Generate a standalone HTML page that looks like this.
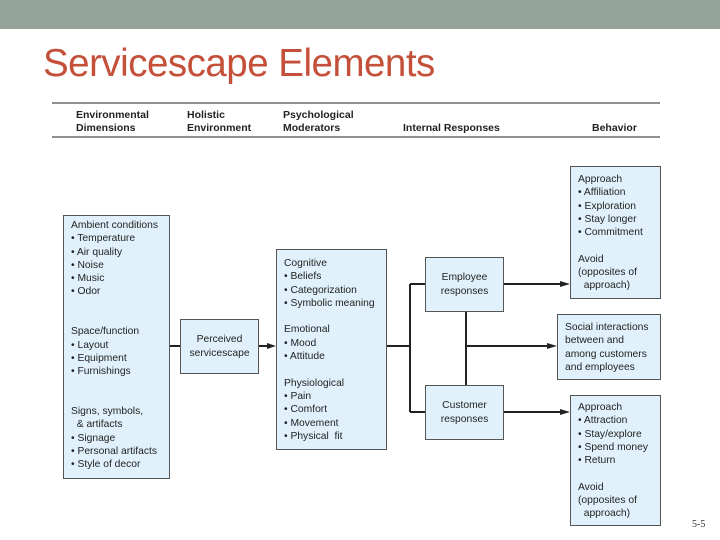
<!DOCTYPE html>
<html><head><meta charset="utf-8"><style>
body{margin:0;width:720px;height:540px;position:relative;background:#fff;overflow:hidden;font-family:"Liberation Sans",Arial,sans-serif;}
.bar{position:absolute;left:0;top:0;width:720px;height:29px;background:#94a39a;}
.title{position:absolute;left:43px;top:42px;font-size:38.5px;color:#c5503a;letter-spacing:-0.5px;}
.h{position:absolute;font-size:10.5px;line-height:13px;color:#222;font-weight:bold;}
.b{position:absolute;background:#e0f1fb;border:1px solid #555;box-sizing:border-box;font-size:10.3px;line-height:13.3px;color:#222;padding:3px 0 0 7px;white-space:nowrap;}
.c{text-align:center;padding:0;display:flex;align-items:center;justify-content:center;}
svg{position:absolute;left:0;top:0;}
</style></head><body>
<div class="bar"></div>
<div class="title">Servicescape Elements</div>
<svg width="720" height="540">
<line x1="52" y1="103" x2="660" y2="103" stroke="#222" stroke-width="1"/>
<line x1="52" y1="137" x2="660" y2="137" stroke="#222" stroke-width="1"/>
<g stroke="#222" stroke-width="2" fill="none">
<line x1="169" y1="346" x2="180" y2="346"/>
<line x1="258" y1="346" x2="270" y2="346"/>
<line x1="386" y1="346" x2="410" y2="346"/>
<line x1="410" y1="284" x2="410" y2="412"/>
<line x1="410" y1="284" x2="425" y2="284"/>
<line x1="410" y1="412" x2="425" y2="412"/>
<line x1="466" y1="311" x2="466" y2="385"/>
<line x1="466" y1="346" x2="550" y2="346"/>
<line x1="503" y1="284" x2="564" y2="284"/>
<line x1="503" y1="412" x2="564" y2="412"/>
</g>
<g fill="#222">
<polygon points="276,346 267,343 267,349"/>
<polygon points="557,346 547,343 547,349"/>
<polygon points="570,284 560,281 560,287"/>
<polygon points="570,412 560,409 560,415"/>
</g>
</svg>
<div class="h" style="left:76px;top:109px">Environmental<br>Dimensions</div>
<div class="h" style="left:187px;top:109px">Holistic<br>Environment</div>
<div class="h" style="left:283px;top:109px">Psychological<br>Moderators</div>
<div class="h" style="left:403px;top:122px">Internal Responses</div>
<div class="h" style="left:592px;top:122px">Behavior</div>

<div class="b" style="left:63px;top:215px;width:107px;height:264px;">Ambient conditions<br>• Temperature<br>• Air quality<br>• Noise<br>• Music<br>• Odor<br><br><br>Space/function<br>• Layout<br>• Equipment<br>• Furnishings<br><br><br>Signs, symbols,<br>&nbsp;&nbsp;&amp; artifacts<br>• Signage<br>• Personal artifacts<br>• Style of decor</div>
<div class="b c" style="left:180px;top:319px;width:79px;height:55px;">Perceived<br>servicescape</div>
<div class="b" style="left:276px;top:249px;width:111px;height:201px;padding-top:7px">Cognitive<br>• Beliefs<br>• Categorization<br>• Symbolic meaning<br><br>Emotional<br>• Mood<br>• Attitude<br><br>Physiological<br>• Pain<br>• Comfort<br>• Movement<br>• Physical&nbsp; fit</div>
<div class="b c" style="left:425px;top:257px;width:79px;height:55px;">Employee<br>responses</div>
<div class="b c" style="left:425px;top:385px;width:79px;height:55px;">Customer<br>responses</div>
<div class="b" style="left:570px;top:166px;width:91px;height:133px;padding-top:6px">Approach<br>• Affiliation<br>• Exploration<br>• Stay longer<br>• Commitment<br><br>Avoid<br>(opposites of<br>&nbsp;&nbsp;approach)</div>
<div class="b" style="left:557px;top:314px;width:104px;height:66px;padding-top:6px">Social interactions<br>between and<br>among customers<br>and employees</div>
<div class="b" style="left:570px;top:395px;width:91px;height:131px;padding-top:5px">Approach<br>• Attraction<br>• Stay/explore<br>• Spend money<br>• Return<br><br>Avoid<br>(opposites of<br>&nbsp;&nbsp;approach)</div>
<div style="position:absolute;left:692px;top:519px;font-size:10px;font-family:'Liberation Serif',serif;color:#333">5-5</div>
</body></html>
